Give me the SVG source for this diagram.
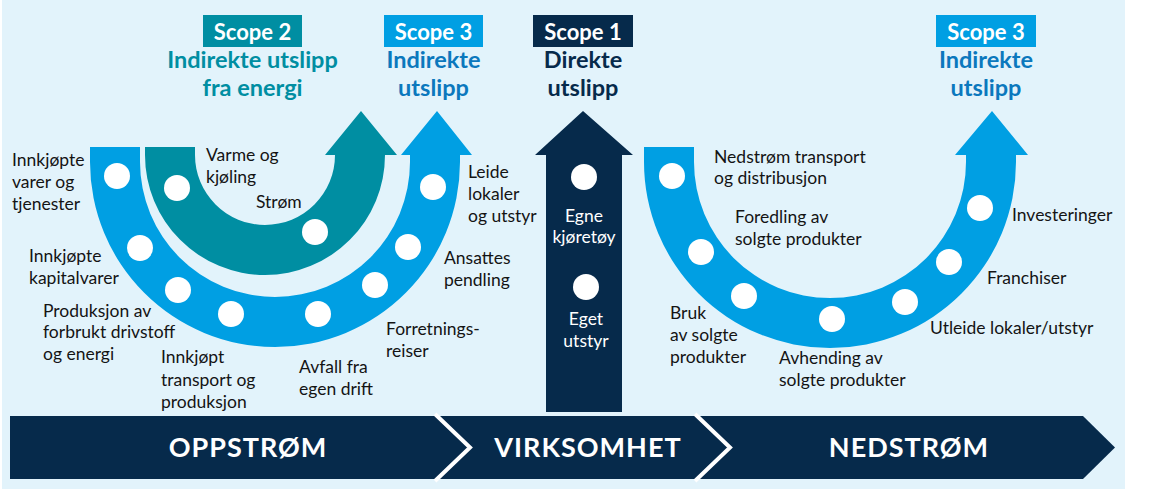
<svg xmlns="http://www.w3.org/2000/svg" width="1150" height="489" viewBox="0 0 1150 489">
<style>
.lbl{font-family:Lato,"Liberation Sans",sans-serif;font-size:17.5px;fill:#141414}
.wl{font-family:Lato,"Liberation Sans",sans-serif;font-size:17.5px;fill:#ffffff;text-anchor:middle}
.hd{font-family:Lato,"Liberation Sans",sans-serif;font-size:23.5px;font-weight:bold;text-anchor:middle}
.box{font-family:Lato,"Liberation Sans",sans-serif;font-size:22px;font-weight:bold;fill:#ffffff;text-anchor:middle}
.ban{font-family:Lato,"Liberation Sans",sans-serif;font-size:27px;font-weight:bold;fill:#ffffff;text-anchor:middle;letter-spacing:1px}
.dot{fill:#ffffff}
.teal{fill:#008ea2}
.blue{fill:#009fe3}
.navy{fill:#062a4b}
</style>
<rect x="2" y="0" width="1123" height="489" fill="#e2f3fb"/>

<g id="scope2-header">
<rect x="203" y="15" width="99" height="32" class="teal"/>
<text x="252.5" y="40" class="box">Scope 2</text>
<text x="252.5" y="68" class="hd" fill="#008ea2">Indirekte utslipp</text>
<text x="252.5" y="96" class="hd" fill="#008ea2">fra energi</text>
</g>
<g id="scope3-left-header">
<rect x="384" y="15" width="99" height="32" class="blue"/>
<text x="433.5" y="40" class="box">Scope 3</text>
<text x="433.5" y="68" class="hd" fill="#0b78bd">Indirekte</text>
<text x="433.5" y="96" class="hd" fill="#0b78bd">utslipp</text>
</g>
<g id="scope1-header">
<rect x="533" y="15" width="100" height="32" class="navy"/>
<text x="583" y="40" class="box">Scope 1</text>
<text x="583" y="68" class="hd" fill="#062a4b">Direkte</text>
<text x="583" y="96" class="hd" fill="#062a4b">utslipp</text>
</g>
<g id="scope3-right-header">
<rect x="936" y="15" width="100" height="32" class="blue"/>
<text x="986" y="40" class="box">Scope 3</text>
<text x="986" y="68" class="hd" fill="#0b78bd">Indirekte</text>
<text x="986" y="96" class="hd" fill="#0b78bd">utslipp</text>
</g>

<g id="connectors">
<path id="upstream-arrow" class="blue" d="M90,147 L90,162 A185,185 0 0 0 460,162 L460,155 L472,155 L437,111 L401,155 L410,155 L410,162 A135,135 0 0 1 140,162 L140,147 Z"/>
<path id="energy-arrow" class="teal" d="M145,147 L145,155 A120,120 0 0 0 385,155 L397,155 L361,111 L325,155 L335,155 A70,70 0 0 1 195,155 L195,147 Z"/>
<path id="direct-arrow" class="navy" d="M546,412 L546,155 L535,155 L583,111 L633,155 L622,155 L622,412 Z"/>
<path id="downstream-arrow" class="blue" d="M644,147 L644,162 A186,186 0 0 0 1016,162 L1016,155 L1028,155 L992,111 L955,155 L966,155 L966,162 A136,136 0 0 1 694,162 L694,147 Z"/>
</g>

<g id="upstream-items">
<circle class="dot" cx="117" cy="176" r="13"/>
<circle class="dot" cx="140" cy="248" r="13"/>
<circle class="dot" cx="178" cy="290" r="13"/>
<circle class="dot" cx="231" cy="314" r="13"/>
<circle class="dot" cx="318" cy="314" r="13"/>
<circle class="dot" cx="375" cy="285" r="13"/>
<circle class="dot" cx="408" cy="247" r="13"/>
<circle class="dot" cx="433" cy="187" r="13"/>
<text class="lbl" x="12" y="166">Innkjøpte</text>
<text class="lbl" x="12" y="188">varer og</text>
<text class="lbl" x="12" y="210">tjenester</text>
<text class="lbl" x="29" y="262">Innkjøpte</text>
<text class="lbl" x="29" y="284">kapitalvarer</text>
<text class="lbl" x="43" y="317">Produksjon av</text>
<text class="lbl" x="43" y="338">forbrukt drivstoff</text>
<text class="lbl" x="43" y="360">og energi</text>
<text class="lbl" x="161" y="363">Innkjøpt</text>
<text class="lbl" x="161" y="386">transport og</text>
<text class="lbl" x="161" y="408">produksjon</text>
<text class="lbl" x="299" y="373">Avfall fra</text>
<text class="lbl" x="299" y="395">egen drift</text>
<text class="lbl" x="386" y="335">Forretnings-</text>
<text class="lbl" x="386" y="357">reiser</text>
<text class="lbl" x="444" y="264">Ansattes</text>
<text class="lbl" x="444" y="286">pendling</text>
<text class="lbl" x="468" y="178">Leide</text>
<text class="lbl" x="468" y="200">lokaler</text>
<text class="lbl" x="468" y="222">og utstyr</text>
</g>

<g id="energy-items">
<circle class="dot" cx="177" cy="188" r="13"/>
<circle class="dot" cx="315" cy="232" r="13"/>
<text class="lbl" x="206" y="161">Varme og</text>
<text class="lbl" x="206" y="183">kjøling</text>
<text class="lbl" x="256" y="208">Strøm</text>
</g>

<g id="direct-items">
<circle class="dot" cx="584" cy="177" r="13"/>
<circle class="dot" cx="586" cy="287" r="13"/>
<text class="wl" x="584" y="222">Egne</text>
<text class="wl" x="584" y="243">kjøretøy</text>
<text class="wl" x="586" y="325">Eget</text>
<text class="wl" x="586" y="347">utstyr</text>
</g>

<g id="downstream-items">
<circle class="dot" cx="672" cy="176" r="13"/>
<circle class="dot" cx="701" cy="252" r="13"/>
<circle class="dot" cx="744" cy="296" r="13"/>
<circle class="dot" cx="832" cy="319" r="13"/>
<circle class="dot" cx="905" cy="302" r="13"/>
<circle class="dot" cx="949" cy="262" r="13"/>
<circle class="dot" cx="980" cy="208" r="13"/>
<text class="lbl" x="714" y="163">Nedstrøm transport</text>
<text class="lbl" x="714" y="184">og distribusjon</text>
<text class="lbl" x="735" y="223">Foredling av</text>
<text class="lbl" x="735" y="245">solgte produkter</text>
<text class="lbl" x="670" y="319">Bruk</text>
<text class="lbl" x="670" y="341">av solgte</text>
<text class="lbl" x="670" y="363">produkter</text>
<text class="lbl" x="779" y="364">Avhending av</text>
<text class="lbl" x="779" y="386">solgte produkter</text>
<text class="lbl" x="930" y="334">Utleide lokaler/utstyr</text>
<text class="lbl" x="987" y="284">Franchiser</text>
<text class="lbl" x="1012" y="221">Investeringer</text>
</g>

<g id="value-chain-banner">
<polygon class="navy" points="10,416 1083,416 1115,447.5 1083,479 10,479"/>
<polyline points="435,414 470,447.5 435,481" fill="none" stroke="#ffffff" stroke-width="4"/>
<polyline points="695,414 730,447.5 695,481" fill="none" stroke="#ffffff" stroke-width="4"/>
<text class="ban" x="248" y="457">OPPSTRØM</text>
<text class="ban" x="588" y="457">VIRKSOMHET</text>
<text class="ban" x="909" y="457">NEDSTRØM</text>
</g>
</svg>
